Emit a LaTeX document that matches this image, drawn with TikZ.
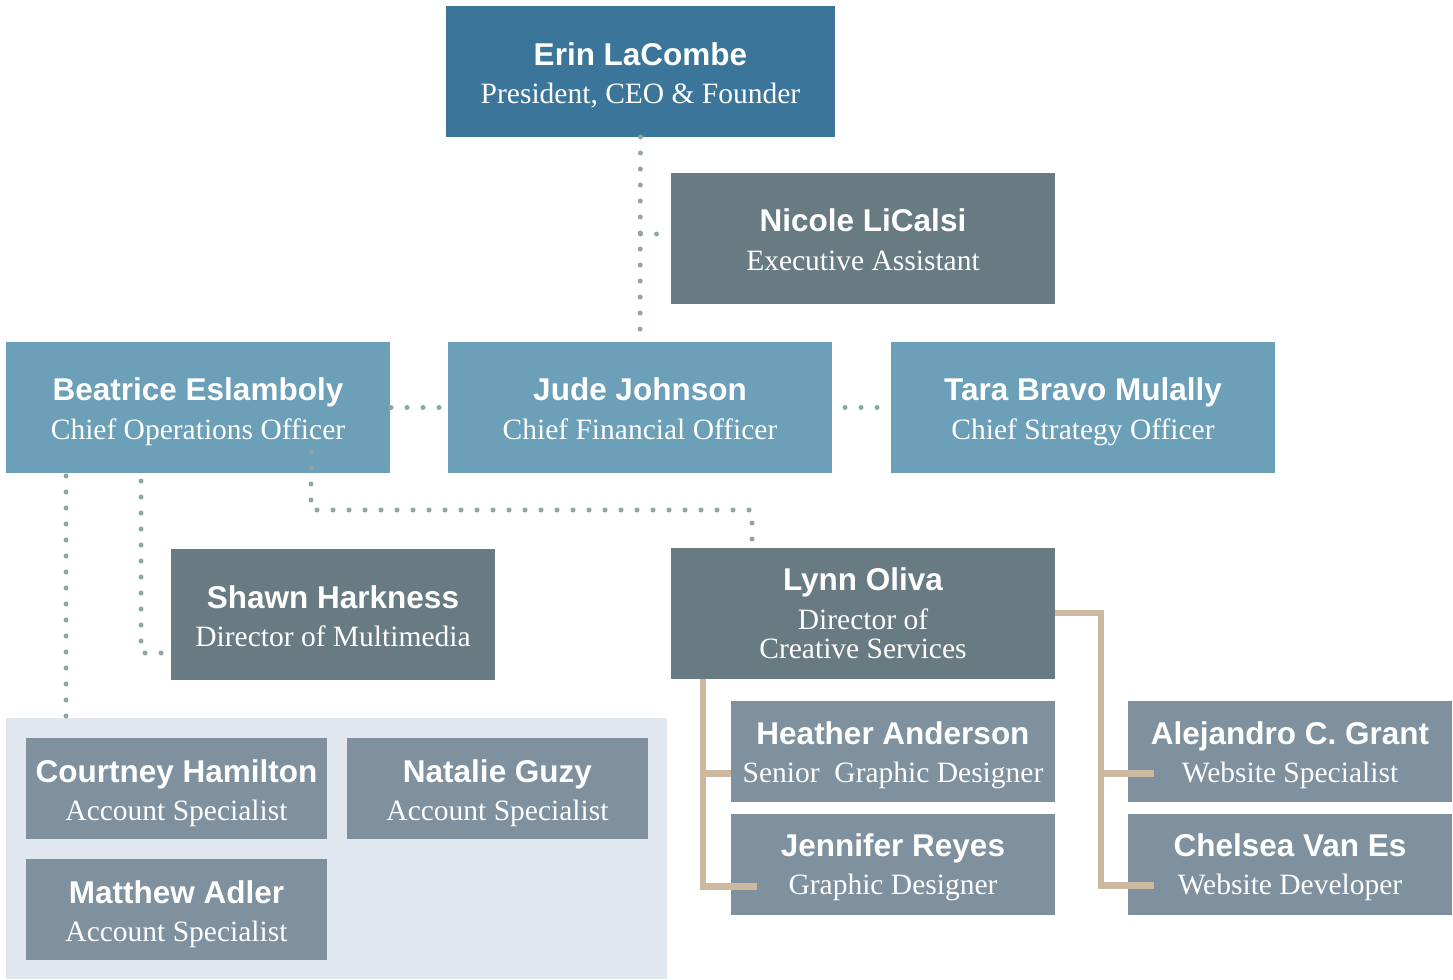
\documentclass[tikz,border=0pt]{standalone}
\usepackage{fontspec}
\setmainfont{Liberation Serif}
\setsansfont{Liberation Sans}
\usetikzlibrary{calc}
\definecolor{cTop}{RGB}{59,118,154}
\definecolor{cDark}{RGB}{104,122,130}
\definecolor{cMid}{RGB}{108,159,184}
\definecolor{cSmall}{RGB}{127,145,158}
\definecolor{cPanel}{RGB}{224,231,238}
\definecolor{cTan}{RGB}{204,185,160}
\definecolor{cDot}{RGB}{143,167,156}
\tikzset{
  box/.style={draw=none, inner sep=0pt, outer sep=0pt, rectangle},
  bigbox/.style={box, minimum height=131bp},
  smallbox/.style={box, minimum width=324bp, minimum height=101bp, fill=cSmall},
  nm/.style={anchor=base, inner sep=0pt, text=white, font=\sffamily\bfseries\fontsize{31.5bp}{38bp}\selectfont},
  ttl/.style={anchor=base, inner sep=0pt, text=white, font=\rmfamily\fontsize{29.5bp}{36bp}\selectfont},
  dotline/.style={draw=cDot, line width=5bp, line cap=round, dash pattern=on 0bp off 16bp},
  tanline/.style={draw=cTan, line width=6.5bp, line join=miter}
}
\begin{document}
\begin{tikzpicture}[x=1bp, y=-1bp]
\useasboundingbox (0,0) rectangle (1453,979);
% panel
\node[box, fill=cPanel, minimum width=661bp, minimum height=261bp] (panel) at (336.5,848.5) {};
% top
\node[bigbox, fill=cTop, minimum width=389bp] (erin) at (640.5,71.5) {};
\node[nm] (erin-n) at (640.5,65) {Erin LaCombe};
\node[ttl] (erin-t) at (640.5,103) {President, CEO \& Founder};
% Nicole
\node[bigbox, fill=cDark, minimum width=384bp] (nicole) at (863,238.5) {};
\node[nm] (nicole-n) at (863,231) {Nicole LiCalsi};
\node[ttl] (nicole-t) at (863,270) {Executive Assistant};
% row of chiefs
\node[bigbox, fill=cMid, minimum width=384bp] (bea) at (198,407.5) {};
\node[nm] (bea-n) at (198,400) {Beatrice Eslamboly};
\node[ttl] (bea-t) at (198,439) {Chief Operations Officer};
\node[bigbox, fill=cMid, minimum width=384bp] (jude) at (640,407.5) {};
\node[nm] (jude-n) at (640,400) {Jude Johnson};
\node[ttl] (jude-t) at (640,439) {Chief Financial Officer};
\node[bigbox, fill=cMid, minimum width=384bp] (tara) at (1083,407.5) {};
\node[nm] (tara-n) at (1083,400) {Tara Bravo Mulally};
\node[ttl] (tara-t) at (1083,439) {Chief Strategy Officer};
% Shawn
\node[bigbox, fill=cDark, minimum width=324bp] (shawn) at (333,614.5) {};
\node[nm] (shawn-n) at (333,608) {Shawn Harkness};
\node[ttl] (shawn-t) at (333,646) {Director of Multimedia};
% Lynn
\node[bigbox, fill=cDark, minimum width=384bp] (lynn) at (863,613.5) {};
\node[nm] (lynn-n) at (863,590) {Lynn Oliva};
\node[ttl] (lynn-t1) at (863,629) {Director of};
\node[ttl] (lynn-t2) at (863,658) {Creative Services};
% account specialists
\node[smallbox, minimum width=301bp] (court) at (176.5,788.5) {};
\node[nm] (court-n) at (176.5,782) {Courtney Hamilton};
\node[ttl] (court-t) at (176.5,820) {Account Specialist};
\node[smallbox, minimum width=301bp] (nat) at (497.5,788.5) {};
\node[nm] (nat-n) at (497.5,782) {Natalie Guzy};
\node[ttl] (nat-t) at (497.5,820) {Account Specialist};
\node[smallbox, minimum width=301bp] (matt) at (176.5,909.5) {};
\node[nm] (matt-n) at (176.5,903) {Matthew Adler};
\node[ttl] (matt-t) at (176.5,941) {Account Specialist};
% creative team
\node[smallbox] (heather) at (893,751.5) {};
\node[nm] (heather-n) at (893,744) {Heather Anderson};
\node[ttl] (heather-t) at (893,782) {Senior\ \ Graphic Designer};
\node[smallbox] (jen) at (893,864.5) {};
\node[nm] (jen-n) at (893,856) {Jennifer Reyes};
\node[ttl] (jen-t) at (893,894) {Graphic Designer};
\node[smallbox] (alej) at (1290,751.5) {};
\node[nm] (alej-n) at (1290,744) {Alejandro C. Grant};
\node[ttl] (alej-t) at (1290,782) {Website Specialist};
\node[smallbox] (chel) at (1290,864.5) {};
\node[nm] (chel-n) at (1290,856) {Chelsea Van Es};
\node[ttl] (chel-t) at (1290,894) {Website Developer};
% dotted connectors
\coordinate (nj) at ([yshift=4.5bp]nicole.west);
\draw[dotline] (erin.south) -- (jude.north);
\draw[dotline] (erin.south |- nj) -- (nj);
\draw[dotline] ([xshift=1bp]bea.east) -- ([xshift=-8bp]jude.west);
\draw[dotline] ([xshift=13bp]jude.east) -- ([xshift=-12bp]tara.west);
\coordinate (b3) at ([xshift=113bp,yshift=21bp]bea.south);
\coordinate (l3) at ([xshift=-111bp]lynn.north);
\draw[dotline] (b3) -- ++(0,58) -| (l3);
\coordinate (b2) at ([xshift=-57bp,yshift=-8bp]bea.south);
\coordinate (s2) at ([yshift=-38.5bp]shawn.west);
\draw[dotline] (b2) |- (s2);
\coordinate (b1) at ([xshift=-132bp,yshift=-3bp]bea.south);
\draw[dotline] (b1) -- (b1 |- panel.north);
% tan connectors
\coordinate (lt) at ([xshift=-160bp]lynn.south);
\draw[tanline] (lt) |- ([xshift=26bp,yshift=-22bp]jen.west);
\draw[tanline] ([xshift=-28bp,yshift=-22bp]heather.west) -- ([yshift=-22bp]heather.west);
\draw[tanline] ([yshift=0.5bp]lynn.east) -- ++(46,0) |- ([xshift=26bp,yshift=-21bp]chel.west);
\draw[tanline] ([xshift=-27bp,yshift=-22bp]alej.west) -- ++(53,0);
\end{tikzpicture}
\end{document}
